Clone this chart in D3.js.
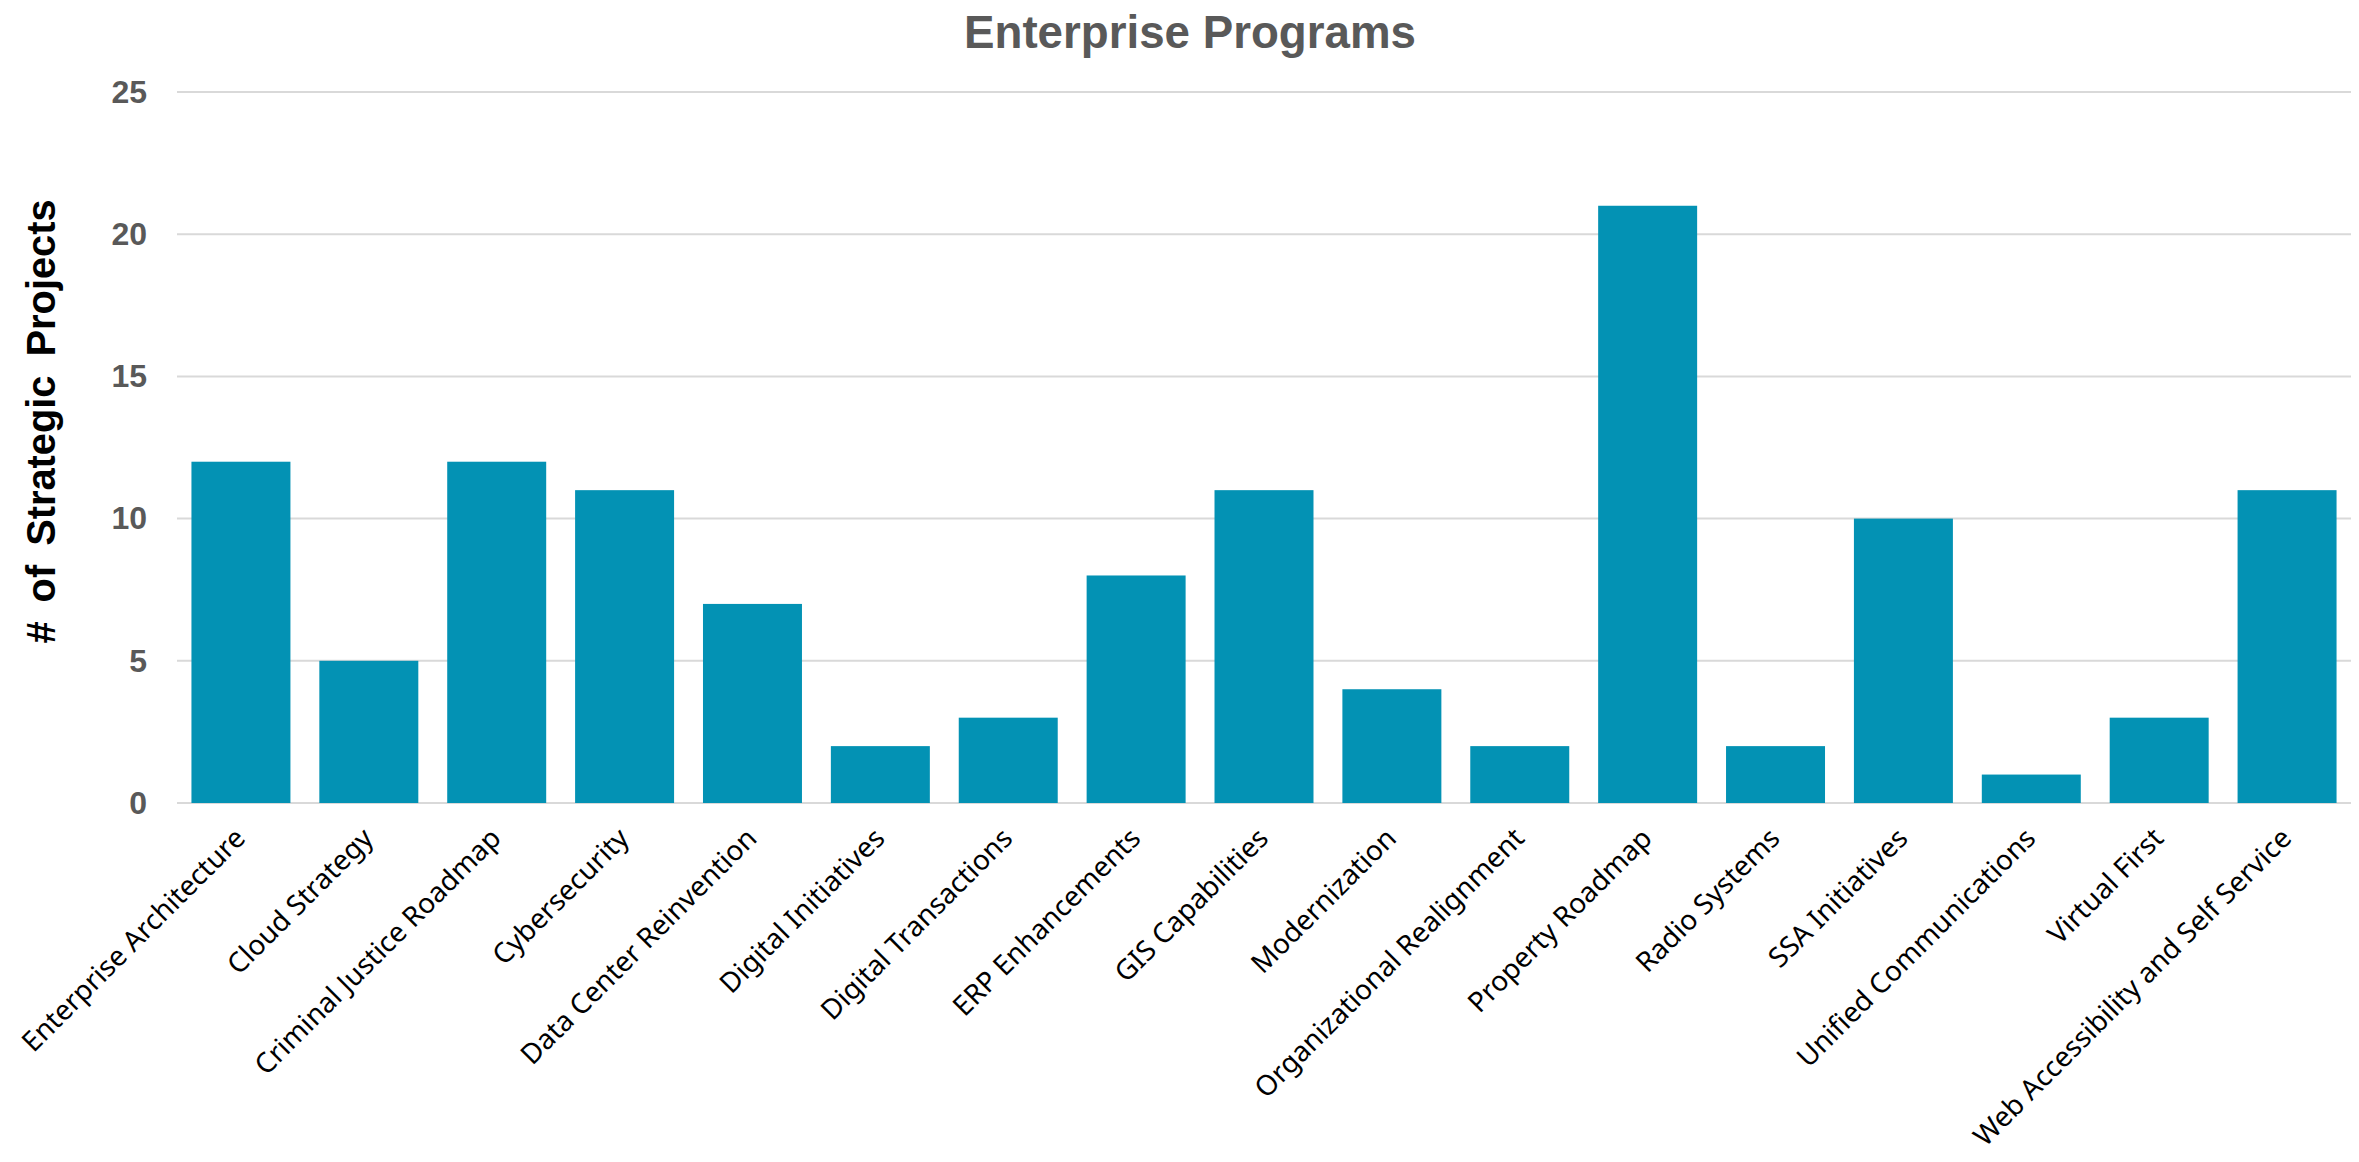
<!DOCTYPE html>
<html>
<head>
<meta charset="utf-8">
<script src="https://cdn.jsdelivr.net/npm/d3@7"></script>
<style>
  body { margin: 0; background: #fff; }
</style>
</head>
<body>
<script>
// Daten
const programs = [
  "Enterprise Architecture",
  "Cloud Strategy",
  "Criminal Justice Roadmap",
  "Cybersecurity",
  "Data Center Reinvention",
  "Digital Initiatives",
  "Digital Transactions",
  "ERP Enhancements",
  "GIS Capabilities",
  "Modernization",
  "Organizational Realignment",
  "Property Roadmap",
  "Radio Systems",
  "SSA Initiatives",
  "Unified Communications",
  "Virtual First",
  "Web Accessibility and Self Service",
];
const projects = [12, 5, 12, 11, 7, 2, 3, 8, 11, 4, 2, 21, 2, 10, 1, 3, 11];
const yTicks = [0, 5, 10, 15, 20, 25];
const chartTitle = "Enterprise Programs";
const yTitle = "# of Strategic Projects";

const width = 2359;
const height = 1162;
const plotLeft = 177;
const plotRight = 2351;
const plotTop = 92;
const plotBottom = 803;

// Schriftgrösse so anpassen, dass der Text eine bestimmte Breite hat
function fitWidth(sel, target) {
  let w = sel.node().getComputedTextLength();
  let fs = parseFloat(sel.style("font-size"));
  return (fs * target) / w;
}

let svg = d3
  .select("body")
  .append("svg")
  .attr("width", width)
  .attr("height", height);

let x = d3
  .scaleBand()
  .domain(programs)
  .range([plotLeft, plotRight])
  .paddingInner(0.226)
  .paddingOuter(0.113);

let y = d3.scaleLinear().domain([0, 25]).range([plotBottom, plotTop]);

// Gitterlinien
svg
  .append("g")
  .selectAll("line")
  .data(yTicks)
  .enter()
  .append("line")
  .attr("x1", plotLeft)
  .attr("x2", plotRight)
  .attr("y1", (d) => y(d))
  .attr("y2", (d) => y(d))
  .style("stroke", "#d9d9d9")
  .style("stroke-width", 2);

// Balken
svg
  .append("g")
  .selectAll("rect")
  .data(projects)
  .enter()
  .append("rect")
  .attr("x", (d, i) => x(programs[i]))
  .attr("y", (d) => y(d))
  .attr("width", x.bandwidth())
  .attr("height", (d) => y(0) - y(d))
  .style("fill", "#0392b4");

// Y-Achse
let yAxis = svg
  .append("g")
  .attr("transform", `translate(${plotLeft},0)`)
  .call(d3.axisLeft(y).tickValues(yTicks).tickSize(0).tickPadding(30));
yAxis.select(".domain").remove();
yAxis
  .selectAll("text")
  .style("font-family", "'Liberation Sans', Arial, sans-serif")
  .style("font-weight", "bold")
  .style("font-size", "32px")
  .style("fill", "#595959");

// X-Beschriftungen (schräg)
let xLabels = svg
  .append("g")
  .selectAll("text")
  .data(programs)
  .enter()
  .append("text")
  .attr("text-anchor", "end")
  .attr(
    "transform",
    (d) => `translate(${x(d) + x.bandwidth() / 2 + 6},${plotBottom + 37}) rotate(-45)`
  )
  .style("font-family", "'Noto Sans', sans-serif")
  .style("font-size", "27px")
  .style("fill", "#000")
  .text((d) => d);

let labelSize = fitWidth(d3.select(xLabels.nodes()[0]), 302);
xLabels.style("font-size", labelSize + "px");

// Titel
let title = svg
  .append("text")
  .attr("x", 1190)
  .attr("y", 48)
  .attr("text-anchor", "middle")
  .style("font-family", "'Liberation Sans', Arial, sans-serif")
  .style("font-weight", "bold")
  .style("font-size", "46px")
  .style("fill", "#595959")
  .text(chartTitle);
title.style("font-size", fitWidth(title, 452) + "px");

// Y-Achsentitel
let yLabel = svg
  .append("text")
  .attr("transform", `translate(55,${(198 + 645) / 2}) rotate(-90)`)
  .attr("text-anchor", "middle")
  .style("font-family", "'Liberation Sans', Arial, sans-serif")
  .style("font-weight", "bold")
  .style("font-size", "36px")
  .style("word-spacing", "8px")
  .style("fill", "#000")
  .text(yTitle);
yLabel.style("font-size", fitWidth(yLabel, 447) + "px");
</script>
</body>
</html>
